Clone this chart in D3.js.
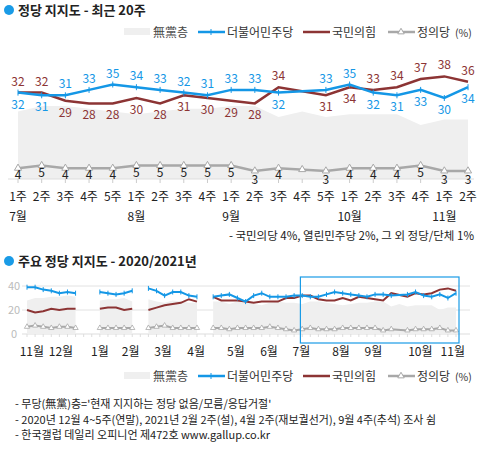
<!DOCTYPE html><html><head><meta charset="utf-8">
<script src="https://cdn.jsdelivr.net/npm/d3@7"></script>
<style>body{margin:0;background:#fff}text{font-family:"Noto Sans CJK KR","Noto Sans",sans-serif}</style></head><body>
<script>
// ---- top chart (recent 20 weeks)
const weeks=["1주","2주","3주","4주","5주","1주","2주","3주","4주","1주","2주","3주","4주","5주","1주","2주","3주","4주","1주","2주"];
const monthLabels=[{i:0,t:"7월"},{i:5,t:"8월"},{i:9,t:"9월"},{i:14,t:"10월"},{i:18,t:"11월"}];
const dem=[32,31,31,33,35,34,33,32,31,33,33,32,null,33,35,32,31,33,30,34];
const ppp=[32,32,29,28,28,30,28,31,30,29,28,34,null,31,34,33,34,37,38,36];
const jus=[4,5,4,4,4,5,5,5,5,5,3,4,null,3,4,4,4,5,3,3];
const ind=[25,27,27,26,25,24,25,26,26,27,27,23,25,23,24,24,24,20,22,22];
// ---- bottom chart (2020/2021 weekly; null = no survey)
const segments=[[0,6],[9,13],[15,21],[23,53]];
const demAll=[39,39,37,36,34,35,34,null,null,35,34,33,34,36,null,38,36,32,35,35,32,31,null,
 31,32,33,30,27,32,34,31,31,31,32].concat(dem);
const pppAll=[20,18,19,21,20,21,21,null,null,21,22,22,20,21,null,20,22,24,25,26,29,27,null,
 31,28,28,28,27,26,27,27,27,30,30].concat(ppp);
const jusAll=[6,7,6,5,6,6,5,null,null,5,5,5,5,5,null,5,6,7,5,5,5,5,null,
 5,5,4,5,5,5,5,6,5,4,3].concat(jus);
const indAll=[28,30,30,31,31,32,31,null,null,28,29,29,30,27,null,29,27,26,28,27,26,26,null,
 27,27,25,27,28,25,24,26,27,26,26].concat(ind);
const bMonths=[{i:0.6,t:"11월"},{i:4.2,t:"12월"},{i:9,t:"1월"},{i:12.8,t:"2월"},{i:16.8,t:"3월"},{i:20.9,t:"4월"},{i:25.8,t:"5월"},{i:29.9,t:"6월"},{i:33.9,t:"7월"},{i:38.8,t:"8월"},{i:42.8,t:"9월"},{i:48.6,t:"10월"},{i:52.6,t:"11월"}];

const BLUE="#1497e6",RED="#8c3434",GRAY="#a8a8a8",AREA="#efefef";
const svg=d3.select("body").append("svg").attr("width",482).attr("height",449);

function legend(y){
  const g=svg.append("g").attr("font-size",12);
  g.append("rect").attr("x",124).attr("y",y-4).attr("width",26).attr("height",7).attr("fill",AREA);
  g.append("text").attr("x",153).attr("y",y+5).attr("fill","#444").text("無黨층");
  g.append("line").attr("x1",198).attr("x2",225).attr("y1",y).attr("y2",y).attr("stroke",BLUE).attr("stroke-width",2.5);
  g.append("line").attr("x1",211).attr("x2",211).attr("y1",y-3).attr("y2",y+3).attr("stroke",BLUE);
  g.append("text").attr("x",227).attr("y",y+5).attr("fill","#333").text("더불어민주당");
  g.append("line").attr("x1",303).attr("x2",330).attr("y1",y).attr("y2",y).attr("stroke",RED).attr("stroke-width",2.5);
  g.append("text").attr("x",332).attr("y",y+5).attr("fill","#333").text("국민의힘");
  g.append("line").attr("x1",388).attr("x2",415).attr("y1",y).attr("y2",y).attr("stroke",GRAY).attr("stroke-width",2.5);
  g.append("path").attr("d",d3.symbol(d3.symbolTriangle,18)()).attr("transform",`translate(401,${y})`).attr("fill","#fff").attr("stroke",GRAY);
  g.append("text").attr("x",417).attr("y",y+5).attr("fill","#333").text("정의당");
  g.append("text").attr("x",455).attr("y",y+5).attr("fill","#333").attr("font-size",10.5).text("(%)");
}
function title(y,t){
  svg.append("circle").attr("cx",9).attr("cy",y-5).attr("r",5).attr("fill","#1a9be6");
  svg.append("text").attr("x",18).attr("y",y).attr("font-size",13).attr("font-weight","bold").attr("fill","#222").text(t);
}
title(15,"정당 지지도 - 최근 20주");
legend(32);

// top chart
const x=d3.scalePoint().domain(d3.range(20)).range([18,468]);
const y=d3.scaleLinear().domain([0,40]).range([179,71]);
const idx=d3.range(20);
svg.append("path").datum(idx).attr("fill",AREA)
  .attr("d",d3.area().x(i=>x(i)).y0(y(0)).y1(i=>y(ind[i])));
svg.append("line").attr("x1",8).attr("x2",474).attr("y1",y(0)).attr("y2",y(0)).attr("stroke","#ddd");
idx.forEach(i=>svg.append("line").attr("x1",x(i)).attr("x2",x(i)).attr("y1",y(0)).attr("y2",y(0)+4).attr("stroke","#ccc"));
function ln(arr,col,w){
  const d=idx.filter(i=>arr[i]!=null);
  svg.append("path").datum(d).attr("fill","none").attr("stroke",col).attr("stroke-width",w)
   .attr("d",d3.line().x(i=>x(i)).y(i=>y(arr[i])));
  return d;
}
ln(jus,GRAY,2.5);
idx.forEach(i=>{
  const v=jus[i]==null?(jus[i-1]+jus[i+1])/2:jus[i];
  svg.append("path").attr("d",d3.symbol(d3.symbolTriangle,22)()).attr("transform",`translate(${x(i)},${y(v)})`).attr("fill","#fff").attr("stroke",GRAY);
  if(jus[i]!=null)svg.append("text").attr("x",x(i)).attr("y",y(v)+(jus[i]<4?13:11)).attr("text-anchor","middle").attr("font-size",12).attr("fill","#222").text(jus[i]);
});
ln(ppp,RED,2.5);
const dd=ln(dem,BLUE,2.5);
dd.forEach(i=>svg.append("line").attr("x1",x(i)).attr("x2",x(i)).attr("y1",y(dem[i])-3).attr("y2",y(dem[i])+3).attr("stroke",BLUE));
idx.forEach(i=>{
  if(dem[i]==null)return;
  const redUp=ppp[i]>=dem[i];
  svg.append("text").attr("x",x(i)).attr("y",redUp?y(ppp[i])-7:y(ppp[i])+16).attr("text-anchor","middle").attr("font-size",12).attr("fill",RED).text(ppp[i]);
  svg.append("text").attr("x",x(i)).attr("y",redUp?y(dem[i])+16:y(dem[i])-7).attr("text-anchor","middle").attr("font-size",12).attr("fill",BLUE).text(dem[i]);
});
idx.forEach(i=>svg.append("text").attr("x",x(i)).attr("y",201).attr("text-anchor","middle").attr("font-size",12).attr("fill","#222").text(weeks[i]));
monthLabels.forEach(m=>svg.append("text").attr("x",x(m.i)).attr("y",221).attr("text-anchor","middle").attr("font-size",12).attr("fill","#222").text(m.t));
svg.append("text").attr("x",474).attr("y",240).attr("text-anchor","end").attr("font-size",11.5).attr("fill","#222").text("- 국민의당 4%, 열린민주당 2%, 그 외 정당/단체 1%");

// bottom chart
title(266,"주요 정당 지지도 - 2020/2021년");
const bx=d3.scaleLinear().domain([0,53]).range([27,456]);
const by=d3.scaleLinear().domain([0,40]).range([334,286]);
[0,20,40].forEach(v=>{
  svg.append("line").attr("x1",22).attr("x2",470).attr("y1",by(v)).attr("y2",by(v)).attr("stroke",v?"#e2e2e2":"#ddd");
  svg.append("text").attr("x",14).attr("y",by(v)+4).attr("text-anchor","middle").attr("font-size",11).attr("fill","#bbb").text(v);
});
d3.range(54).forEach(i=>svg.append("line").attr("x1",bx(i)).attr("x2",bx(i)).attr("y1",by(0)).attr("y2",by(0)+3).attr("stroke","#ddd"));
segments.forEach(([a,b])=>{
  const s=d3.range(a,b+1);
  svg.append("path").datum(s.filter(i=>indAll[i]!=null)).attr("fill",AREA)
   .attr("d",d3.area().x(i=>bx(i)).y0(by(0)).y1(i=>by(indAll[i])));
});
function bl(arr,col,mark){
  segments.forEach(([a,b])=>{
    const s=d3.range(a,b+1).filter(i=>arr[i]!=null);
    svg.append("path").datum(s).attr("fill","none").attr("stroke",col).attr("stroke-width",2)
     .attr("d",d3.line().x(i=>bx(i)).y(i=>by(arr[i])));
    s.forEach(i=>{
      if(mark==="tri")svg.append("path").attr("d",d3.symbol(d3.symbolTriangle,12)()).attr("transform",`translate(${bx(i)},${by(arr[i])})`).attr("fill","#fff").attr("stroke",GRAY).attr("stroke-width",0.8);
      if(mark==="tick")svg.append("line").attr("x1",bx(i)).attr("x2",bx(i)).attr("y1",by(arr[i])-2.5).attr("y2",by(arr[i])+2.5).attr("stroke",col);
    });
  });
}
bl(jusAll,GRAY,"tri");
bl(pppAll,RED,null);
bl(demAll,BLUE,"tick");
bMonths.forEach(m=>svg.append("text").attr("x",bx(m.i)).attr("y",356).attr("text-anchor","middle").attr("font-size",12).attr("fill","#222").text(m.t));
svg.append("rect").attr("x",bx(33.9)-1).attr("y",277).attr("width",bx(53)-bx(33.9)+4).attr("height",66).attr("fill","none").attr("stroke","#1a9be6").attr("stroke-width",1.2);
legend(376);
["- 무당(無黨)층='현재 지지하는 정당 없음/모름/응답거절'","- 2020년 12월 4~5주(연말), 2021년 2월 2주(설), 4월 2주(재보궐선거), 9월 4주(추석) 조사 쉼","- 한국갤럽 데일리 오피니언 제472호 www.gallup.co.kr"]
 .forEach((t,k)=>svg.append("text").attr("x",15).attr("y",408+k*15.5).attr("font-size",11).attr("fill","#222").text(t));
</script></body></html>
